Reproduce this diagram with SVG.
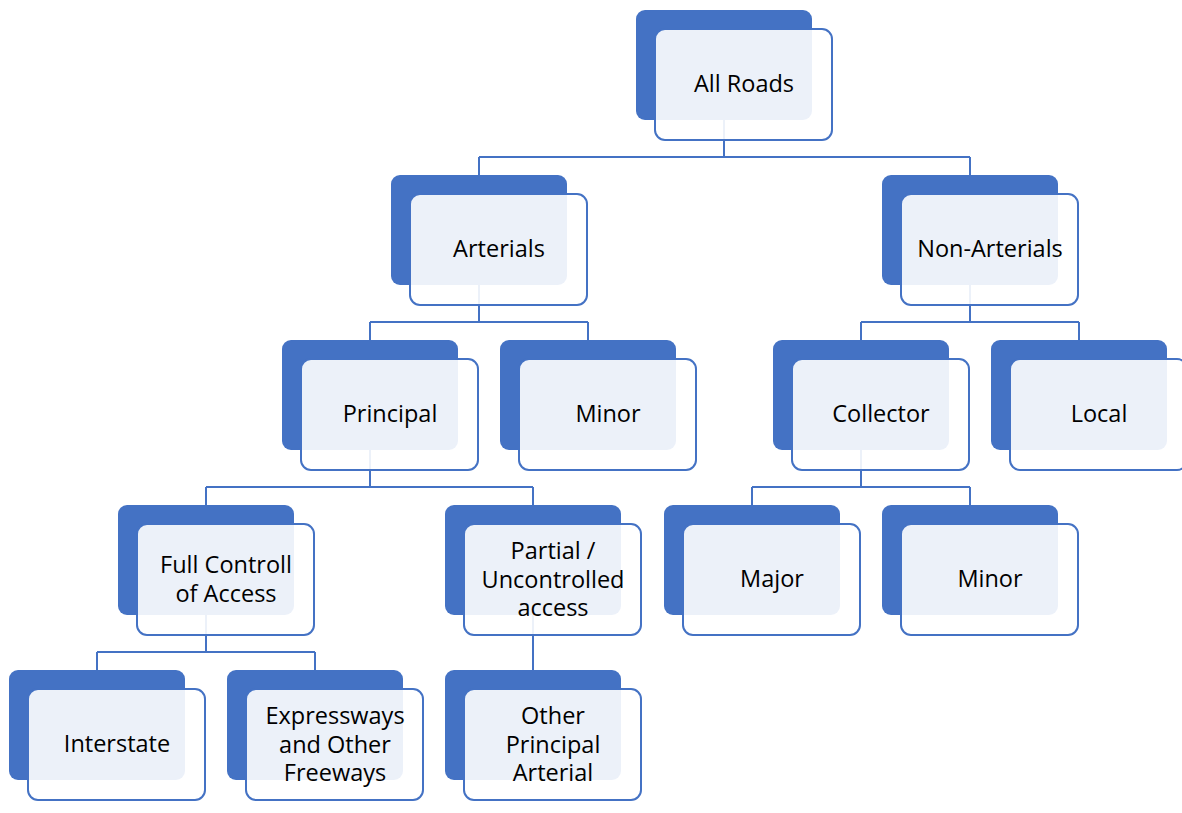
<svg xmlns="http://www.w3.org/2000/svg" width="1182" height="813" viewBox="0 0 1182 813">
<style>
.back{fill:#4472C4}
.front{fill:#FFFFFF;fill-opacity:0.9;stroke:#4472C4;stroke-width:2}
.lbl{font-family:"Open Sans","Liberation Sans",sans-serif;font-size:23.5px;fill:#000;text-anchor:middle}
.conn{fill:none;stroke:#4472C4;stroke-width:2}
</style>
<defs>
<rect id="bk" class="back" x="0" y="0" width="176" height="110" rx="9"/>
<rect id="fr" class="front" x="19" y="19" width="177" height="111" rx="10"/>
</defs>
<g id="connectors">
<path class="conn" d="M724,118 V157 M479,157 H970 M479,157 V175 M970,157 V175"/>
<path class="conn" d="M479,283 V322 M370,322 H588 M370,322 V340 M588,322 V340"/>
<path class="conn" d="M970,283 V322 M861,322 H1079 M861,322 V340 M1079,322 V340"/>
<path class="conn" d="M370,448 V487 M206,487 H533 M206,487 V505 M533,487 V505"/>
<path class="conn" d="M861,448 V487 M752,487 H970 M752,487 V505 M970,487 V505"/>
<path class="conn" d="M206,613 V652 M97,652 H315 M97,652 V670 M315,652 V670"/>
<path class="conn" d="M533,613 V670"/>
</g>
<g id="n-allroads" transform="translate(636,10)"><use href="#bk"/><use href="#fr"/><text class="lbl" x="108" y="82">All Roads</text></g>
<g id="n-arterials" transform="translate(391,175)"><use href="#bk"/><use href="#fr"/><text class="lbl" x="108" y="82">Arterials</text></g>
<g id="n-nonarterials" transform="translate(882,175)"><use href="#bk"/><use href="#fr"/><text class="lbl" x="108" y="82">Non-Arterials</text></g>
<g id="n-principal" transform="translate(282,340)"><use href="#bk"/><use href="#fr"/><text class="lbl" x="108" y="82">Principal</text></g>
<g id="n-minor-art" transform="translate(500,340)"><use href="#bk"/><use href="#fr"/><text class="lbl" x="108" y="82">Minor</text></g>
<g id="n-collector" transform="translate(773,340)"><use href="#bk"/><use href="#fr"/><text class="lbl" x="108" y="82">Collector</text></g>
<g id="n-local" transform="translate(991,340)"><use href="#bk"/><use href="#fr"/><text class="lbl" x="108" y="82">Local</text></g>
<g id="n-fullcontrol" transform="translate(118,505)"><use href="#bk"/><use href="#fr"/><text class="lbl" x="108" y="68">Full Controll</text><text class="lbl" x="108" y="97">of Access</text></g>
<g id="n-partial" transform="translate(445,505)"><use href="#bk"/><use href="#fr"/><text class="lbl" x="108" y="54">Partial /</text><text class="lbl" x="108" y="83">Uncontrolled</text><text class="lbl" x="108" y="111">access</text></g>
<g id="n-major" transform="translate(664,505)"><use href="#bk"/><use href="#fr"/><text class="lbl" x="108" y="82">Major</text></g>
<g id="n-minor-col" transform="translate(882,505)"><use href="#bk"/><use href="#fr"/><text class="lbl" x="108" y="82">Minor</text></g>
<g id="n-interstate" transform="translate(9,670)"><use href="#bk"/><use href="#fr"/><text class="lbl" x="108" y="82">Interstate</text></g>
<g id="n-expressways" transform="translate(227,670)"><use href="#bk"/><use href="#fr"/><text class="lbl" x="108" y="54">Expressways</text><text class="lbl" x="108" y="83">and Other</text><text class="lbl" x="108" y="111">Freeways</text></g>
<g id="n-otherprincipal" transform="translate(445,670)"><use href="#bk"/><use href="#fr"/><text class="lbl" x="108" y="54">Other</text><text class="lbl" x="108" y="83">Principal</text><text class="lbl" x="108" y="111">Arterial</text></g>
</svg>
